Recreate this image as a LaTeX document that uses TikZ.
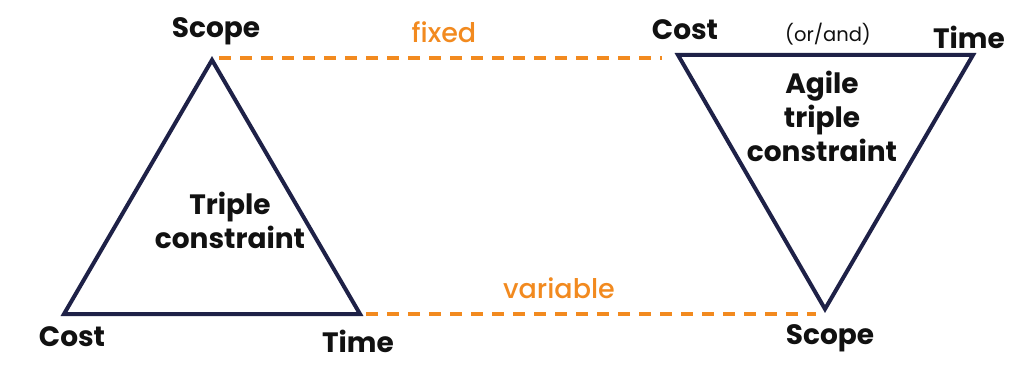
\documentclass[tikz,border=0pt]{standalone}
\usepackage{fontspec}
\setmainfont{Poppins}
\newfontfamily\pmed{Poppins Medium}
\definecolor{navy}{HTML}{1E2147}
\definecolor{orng}{HTML}{F28A1F}
\definecolor{ink}{HTML}{111111}
\begin{document}
\begin{tikzpicture}[x=1pt,y=-1pt,
  tri/.style={draw=navy,line width=4pt,line join=miter},
  dashline/.style={draw=orng,line width=3.6pt,dash pattern=on 12pt off 9pt},
  lbl/.style={font=\fontsize{28}{32}\selectfont\bfseries,text=ink,inner sep=0pt,anchor=center},
  olbl/.style={font=\fontsize{27}{32}\selectfont\pmed,text=orng,inner sep=0pt},
  small/.style={font=\fontsize{19.5}{24}\selectfont,text=ink,inner sep=0pt},
  mid/.style={font=\fontsize{28}{34}\selectfont\bfseries,text=ink,align=center,inner sep=0pt}]
\useasboundingbox[fill=white] (0,0) rectangle (1024,379);
% left triangle
\coordinate (la) at (212,60);
\coordinate (lb) at (64,314);
\coordinate (lc) at (360,314);
\draw[tri] (la) -- (lb) -- (lc) -- cycle;
% right triangle
\coordinate (ra) at (678,55);
\coordinate (rb) at (973,55);
\coordinate (rc) at (825,309);
\draw[tri] (ra) -- (rb) -- (rc) -- cycle;
% dashed lines
\coordinate (t1) at (219,58);
\coordinate (t2) at (662,58);
\coordinate (b1) at (366,314);
\coordinate (b2) at (816,314);
\draw[dashline] (t1) -- (t2);
\draw[dashline] (b1) -- (b2);
% labels
\node[lbl] (scopeL) at (216,31) {Scope};
\node[olbl] (fixed) at (444,32) {fixed};
\node[lbl] (costR) at (685,30) {Cost};
\node[small] (orand) at (828,34) {(or/and)};
\node[lbl] (timeR) at (969,37) {Time};
\node[mid] (agile) at (822,116) {Agile\\triple\\constraint};
\node[mid] (triple) at (230,220) {Triple\\constraint};
\node[olbl] (variable) at (559,288) {variable};
\node[lbl] (costL) at (72,337) {Cost};
\node[lbl] (timeL) at (358,341) {Time};
\node[lbl] (scopeR) at (830,338) {Scope};
\end{tikzpicture}
\end{document}
